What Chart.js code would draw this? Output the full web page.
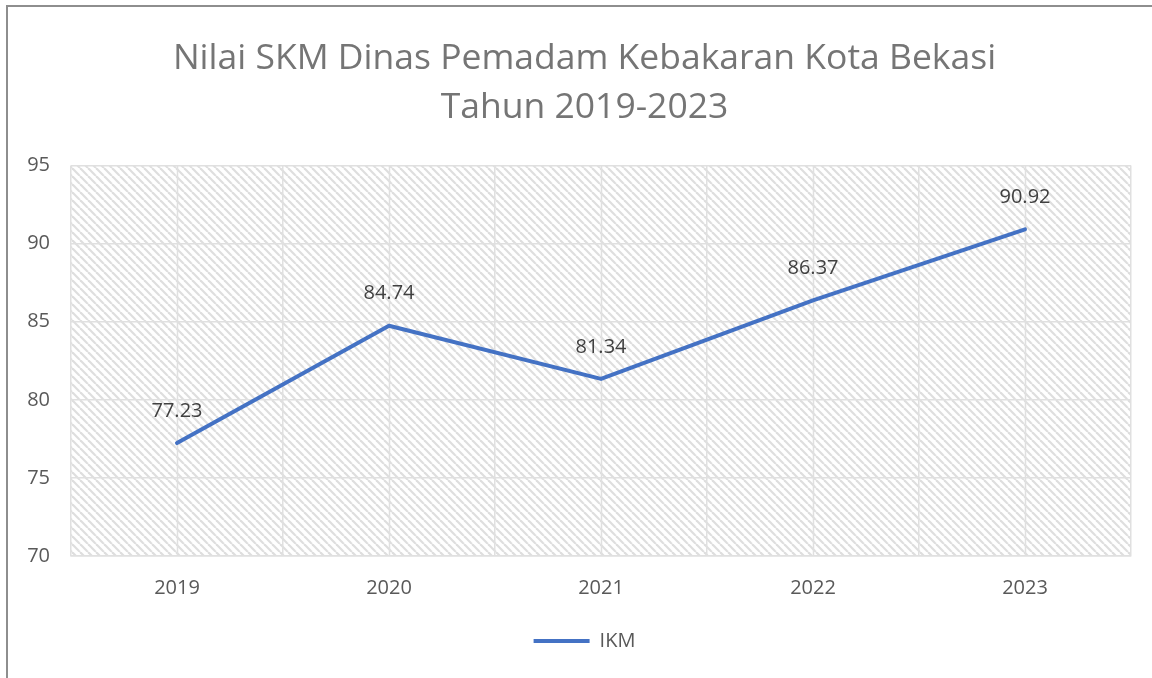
<!DOCTYPE html>
<html>
<head>
<meta charset="utf-8">
<script src="https://cdn.jsdelivr.net/npm/chart.js@4/dist/chart.umd.min.js"></script>
<style>
    html, body { margin: 0; padding: 0; background: #fff; overflow: hidden; }
    #wrap { position: relative; width: 1152px; height: 678px; }
    #frame {
        position: absolute; left: 6px; top: 5px; width: 1200px; height: 720px;
        border-left: 2px solid #8e8e8e; border-top: 2px solid #8e8e8e;
        pointer-events: none;
    }
</style>
</head>
<body>
<div id="wrap">
    <canvas id="chart" width="1152" height="678"></canvas>
    <div id="frame"></div>
</div>
<script>
// data
const years = ['2019', '2020', '2021', '2022', '2023'];
const ikmValues = [77.23, 84.74, 81.34, 86.37, 90.92];
const titleLines = ['Nilai SKM Dinas Pemadam Kebakaran Kota Bekasi', 'Tahun 2019-2023'];
const seriesName = 'IKM';

const FONT = "'Open Sans', 'Liberation Sans', sans-serif";
const lineColor = '#4472C4';
const gridColor = '#e0e0e0';

// diagonal hatch fill for the plot area
function makeHatch() {
    const c = document.createElement('canvas');
    c.width = 8;
    c.height = 8;
    const g = c.getContext('2d');
    g.fillStyle = '#ffffff';
    g.fillRect(0, 0, 8, 8);
    g.strokeStyle = '#dedede';
    g.lineWidth = 2.2;
    for (const off of [-8, 0, 8]) {
        g.beginPath();
        g.moveTo(off, 0);
        g.lineTo(off + 8, 8);
        g.stroke();
    }
    return g.createPattern(c, 'repeat');
}

const hatchPlugin = {
    id: 'hatch',
    beforeDraw(chart) {
        const { ctx, chartArea: a } = chart;
        ctx.save();
        ctx.fillStyle = makeHatch();
        ctx.fillRect(a.left, a.top, a.right - a.left, a.bottom - a.top);
        ctx.restore();
    },
    // extra vertical lines through the category centres
    beforeDatasetsDraw(chart) {
        const { ctx, chartArea: a, scales } = chart;
        ctx.save();
        ctx.strokeStyle = gridColor;
        ctx.lineWidth = 1.5;
        years.forEach((y, i) => {
            const x = Math.round(scales.x.getPixelForValue(i)) + 0.5;
            ctx.beginPath();
            ctx.moveTo(x, a.top);
            ctx.lineTo(x, a.bottom);
            ctx.stroke();
        });
        ctx.restore();
    }
};

const labelPlugin = {
    id: 'valueLabels',
    afterDatasetsDraw(chart) {
        const { ctx } = chart;
        const meta = chart.getDatasetMeta(0);
        ctx.save();
        ctx.font = '20px ' + FONT;
        ctx.fillStyle = '#404040';
        ctx.textAlign = 'center';
        ctx.textBaseline = 'middle';
        meta.data.forEach((pt, i) => {
            ctx.fillText(ikmValues[i].toFixed(2), pt.x, pt.y - 32);
        });
        ctx.restore();
    }
};

new Chart(document.getElementById('chart'), {
    type: 'line',
    data: {
        labels: years,
        datasets: [{
            label: seriesName,
            data: ikmValues,
            borderColor: lineColor,
            backgroundColor: lineColor,
            borderWidth: 4,
            borderCapStyle: 'round',
            borderJoinStyle: 'round',
            pointRadius: 0,
            pointHoverRadius: 0,
            tension: 0
        }]
    },
    options: {
        responsive: false,
        animation: false,
        layout: { padding: { left: 27, right: 10, top: 0, bottom: 17 } },
        scales: {
            x: {
                offset: true,
                grid: { offset: true, color: gridColor, lineWidth: 1.5, drawTicks: false },
                border: { display: true, color: gridColor, width: 1.5 },
                ticks: { color: '#595959', font: { family: FONT, size: 20 }, padding: 20 }
            },
            y: {
                min: 70,
                max: 95,
                afterFit(scale) { scale.width = 44; },
                ticks: { stepSize: 5, color: '#595959', font: { family: FONT, size: 20 }, padding: 21 },
                grid: { color: gridColor, lineWidth: 1.5, drawTicks: false },
                border: { display: false }
            },
            // empty right-hand spacer so the title sits where it does in the original
            yRight: {
                position: 'right',
                afterFit(scale) { scale.width = 11; },
                ticks: { display: false },
                grid: { display: false, drawTicks: false },
                border: { display: false }
            }
        },
        plugins: {
            title: {
                display: true,
                text: titleLines,
                color: '#757575',
                font: { family: FONT, size: 35.5, weight: 'normal', lineHeight: 1.36 },
                padding: { top: 35, bottom: 34 }
            },
            legend: {
                position: 'bottom',
                labels: {
                    color: '#595959',
                    font: { family: FONT, size: 20 },
                    usePointStyle: true,
                    pointStyleWidth: 56,
                    pointStyle: 'line',
                    padding: 11
                }
            },
            tooltip: { enabled: false }
        }
    },
    plugins: [hatchPlugin, labelPlugin]
});
</script>
</body>
</html>
